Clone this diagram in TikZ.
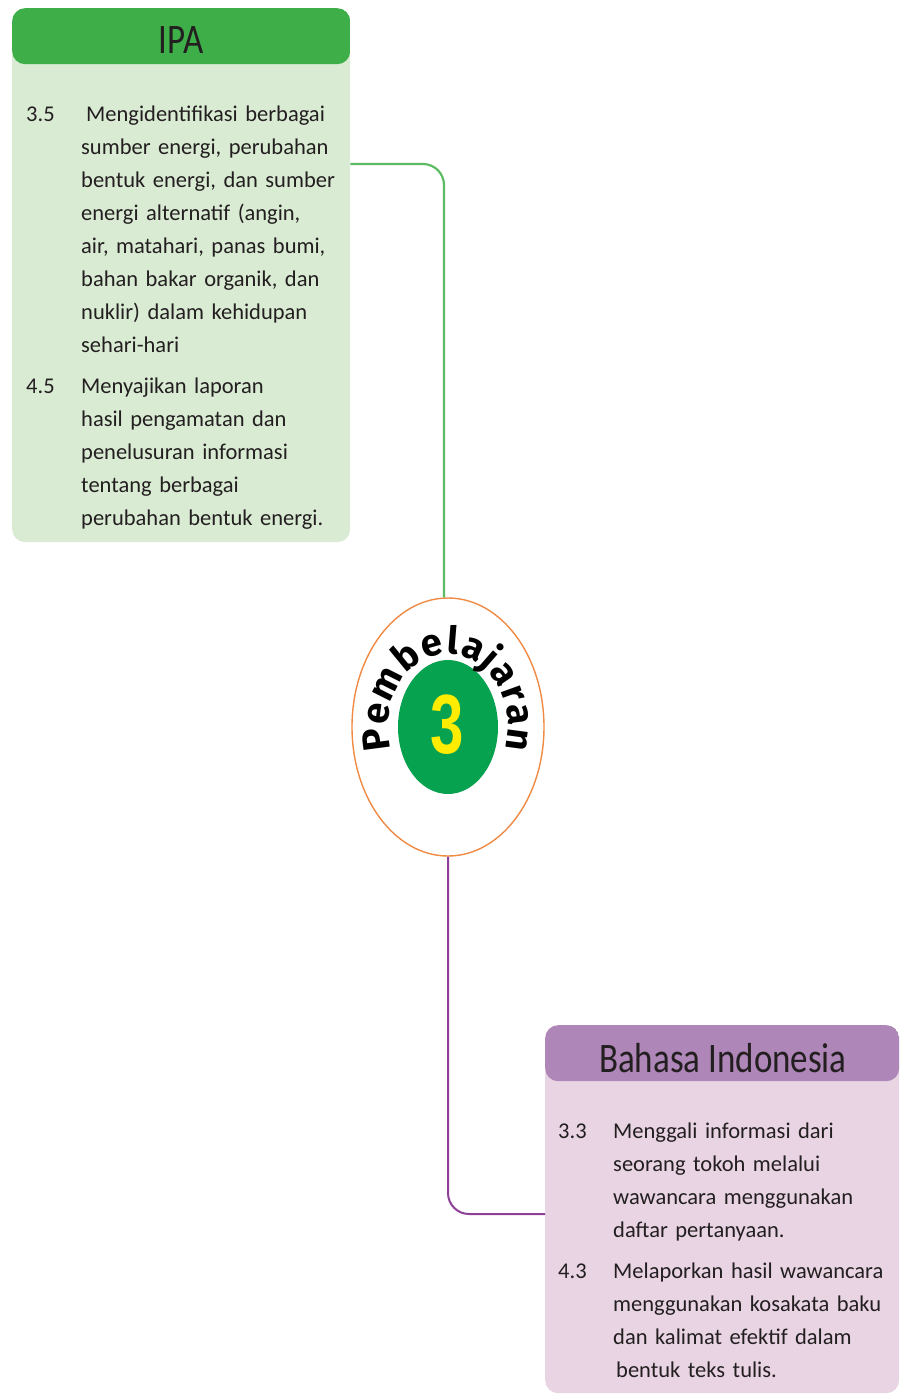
\documentclass[tikz,border=0pt]{standalone}
\usepackage{fontspec}
\setmainfont{Carlito}
\newfontfamily\arcfont{Fira Sans}
\newfontfamily\digitfont{Liberation Sans}
\usetikzlibrary{calc,shapes.geometric,decorations.text}

\definecolor{ipahead}{HTML}{3EAE49}
\definecolor{ipabody}{HTML}{DAEBD4}
\definecolor{ipaline}{HTML}{5DBB63}
\definecolor{bihead}{HTML}{AE86B7}
\definecolor{bibody}{HTML}{E8D4E3}
\definecolor{biline}{HTML}{8E3F97}
\definecolor{ringorange}{HTML}{EF8B44}
\definecolor{disc}{HTML}{07A24F}
\definecolor{numyellow}{HTML}{FFEC00}
\definecolor{ink}{HTML}{231F20}

\begin{document}
\begin{tikzpicture}[x=1pt,y=1pt,
  panel/.style 2 args={fill=#1, rounded corners=13pt, inner sep=0pt,
    anchor=north west,
    path picture={\fill[#2] (path picture bounding box.north west)
      rectangle ([yshift=-56pt]path picture bounding box.north east);}},
  heading/.style={anchor=base, inner sep=0pt, text=ink,
    font=\fontsize{35}{35}\selectfont},
  itemno/.style={anchor=base west, inner sep=0pt, text=ink,
    font=\fontsize{22.5}{33}\selectfont},
  itemtext/.style={anchor=base west, inner sep=0pt, text=ink,
    text width=285pt, align=left, font=\fontsize{22.5}{33}\selectfont},
  conn/.style={line width=2.2pt, rounded corners=21pt, #1}
]
\useasboundingbox (0,0) rectangle (900,-1395);

% IPA panel
\node[panel={ipabody}{ipahead}, minimum width=338pt, minimum height=534pt]
  (ipabox) at (12,-8) {};
\node[heading] (ipatitle) at (181,-53) {\scalebox{1}[1.2]{IPA}};
\node[itemno] (n35) at (26,-121) {3.5};
\node[itemtext] (t35) at (81,-121) {\hspace*{5pt}Mengidentifikasi berbagai\\
  sumber energi, perubahan\\ bentuk energi, dan sumber\\
  energi alternatif (angin,\\ air, matahari, panas bumi,\\
  bahan bakar organik, dan\\ nuklir) dalam kehidupan\\ sehari-hari};
\node[itemno] (n45) at (26,-393) {4.5};
\node[itemtext] (t45) at (81,-393) {Menyajikan laporan\\
  hasil pengamatan dan\\ penelusuran informasi\\ tentang berbagai\\
  perubahan bentuk energi.};

% Bahasa Indonesia panel
\node[panel={bibody}{bihead}, minimum width=354pt, minimum height=368pt]
  (bibox) at (545,-1025) {};
\node[heading] (bititle) at (723,-1072) {\scalebox{1}[1.2]{Bahasa Indonesia}};
\node[itemno] (n33) at (558,-1138) {3.3};
\node[itemtext] (t33) at (613,-1138) {Menggali informasi dari\\
  seorang tokoh melalui\\ wawancara menggunakan\\ daftar pertanyaan.};
\node[itemno] (n43) at (558,-1278) {4.3};
\node[itemtext] (t43) at (613,-1278) {Melaporkan hasil wawancara\\
  menggunakan kosakata baku\\ dan kalimat efektif dalam\\
  \hspace*{3pt}bentuk teks tulis.};

% central badge
\node[ellipse, draw=ringorange, line width=1.4pt, fill=white,
  minimum width=192pt, minimum height=258pt, inner sep=0pt]
  (ring) at (448,-727) {};
\node[ellipse, fill=disc, minimum width=100pt, minimum height=134pt,
  inner sep=0pt] (disc) at (448,-727) {};
\node[text=numyellow, inner sep=0pt] (num) at (447,-725)
  {\digitfont\bfseries\fontsize{60}{60}\selectfont\scalebox{1}[1.4]{3}};
\path[decorate, decoration={text along path, text align=fit to path,
    text format delimiters={|}{|},
    text={|\arcfont\bfseries\fontsize{38}{40}\selectfont|Pembelajaran}}]
  ($(ring.center)+(198:60pt and 73pt)$)
  arc[start angle=198, end angle=-18, x radius=60pt, y radius=73pt];

% connectors
\coordinate (ipaout) at ($(ipabox.north east)+(0,-156)$);
\coordinate (biin) at ($(bibox.north west)+(0,-189)$);
\draw[conn=ipaline] (ipaout) -| ([xshift=-4pt]ring.north);
\draw[conn=biline, line width=2pt] (ring.south) |- (biin);
\end{tikzpicture}
\end{document}
